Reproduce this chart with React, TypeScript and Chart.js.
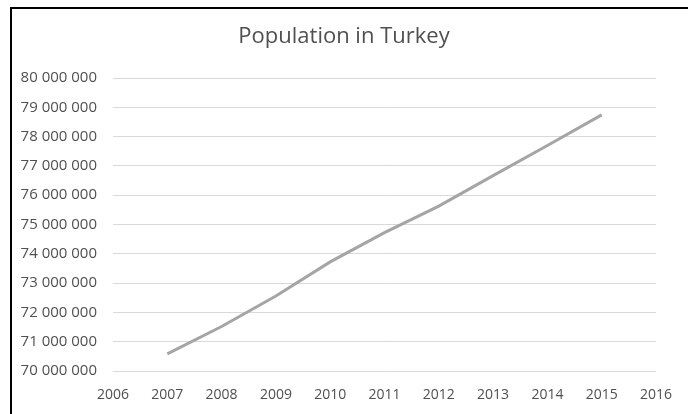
import React, { useEffect, useRef } from "react";
import { Chart, registerables } from "chart.js";

Chart.register(...registerables);

const years = [2007, 2008, 2009, 2010, 2011, 2012, 2013, 2014, 2015];
const population = [70586256, 71517100, 72561312, 73722988, 74724269, 75627384, 76667864, 77695904, 78741053];
const chartTitle = "Population in Turkey";
const xMin = 2006;
const xMax = 2016;
const yMin = 70000000;
const yMax = 80000000;

function formatThousands(v: number): string {
  return String(Math.round(v)).replace(/\B(?=(\d{3})+(?!\d))/g, " ");
}

export default function App() {
  const ref = useRef<HTMLCanvasElement | null>(null);

  useEffect(() => {
    if (!ref.current) return;
    const chart = new Chart(ref.current, {
      type: "line",
      data: {
        datasets: [
          {
            label: chartTitle,
            data: years.map((y, i) => ({ x: y, y: population[i] })),
            borderColor: "#a5a5a5",
            backgroundColor: "#a5a5a5",
            borderWidth: 3,
            pointRadius: 0,
            tension: 0,
            fill: false,
            xAxisID: "x",
            yAxisID: "y",
          },
        ],
      },
      options: {
        responsive: false,
        animation: false,
        layout: { padding: { left: 0, right: 0, top: 0, bottom: 0 } },
        plugins: {
          legend: { display: false },
          tooltip: { enabled: false },
          title: {
            display: true,
            text: chartTitle,
            color: "#505050",
            font: { family: "'Open Sans'", size: 22, weight: "normal", lineHeight: 1.2 },
            padding: { top: 24, bottom: 27.6 },
          },
        },
        scales: {
          x: {
            type: "linear",
            min: xMin,
            max: xMax,
            grid: { display: false, drawTicks: false },
            border: { display: false },
            ticks: {
              stepSize: 1,
              color: "#505050",
              font: { family: "'Open Sans'", size: 14 },
              padding: 16,
              maxRotation: 0,
              callback: (v: any) => String(v),
            },
            afterFit: (scale: any) => {
              scale.height = 43;
            },
          },
          y: {
            type: "linear",
            position: "left",
            min: yMin,
            max: yMax,
            grid: { color: "#d9d9d9", lineWidth: 1, drawTicks: false },
            border: { display: false },
            ticks: {
              stepSize: 1000000,
              color: "#505050",
              font: { family: "'Open Sans'", size: 15 },
              padding: 16,
              callback: (v: any) => formatThousands(Number(v)),
            },
            afterFit: (scale: any) => {
              scale.width = 113;
            },
          },
          spacer: {
            type: "linear",
            position: "right",
            display: true,
            grid: { display: false, drawTicks: false },
            border: { display: false },
            ticks: { display: false },
            afterFit: (scale: any) => {
              scale.width = 31;
            },
          },
        },
      },
    });
    return () => chart.destroy();
  }, []);

  return (
    <div style={{ position: "fixed", left: 0, top: 0, width: 688, height: 414, background: "#fff" }}>
      <canvas ref={ref} width={688} height={414} style={{ position: "absolute", left: 0, top: 0 }} />
      <div
        style={{
          position: "absolute",
          left: 10,
          top: 7,
          width: 678,
          height: 407,
          borderTop: "2px solid #000",
          borderLeft: "2px solid #000",
          boxSizing: "border-box",
          pointerEvents: "none",
        }}
      />
    </div>
  );
}
